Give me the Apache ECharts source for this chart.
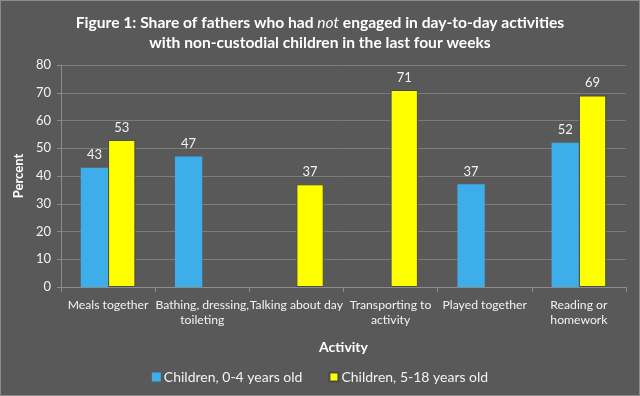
<!DOCTYPE html>
<html><head><meta charset="utf-8">
<script src="https://cdn.jsdelivr.net/npm/echarts@6/dist/echarts.min.js"></script>
<style>html,body{margin:0;padding:0;background:#595959}#c{width:640px;height:396px;box-sizing:border-box;border:1px solid #8a8a8a}</style>
</head><body><div id="c"></div>
<script>
var categories = ['Meals together', 'Bathing, dressing,\ntoileting', 'Talking about day', 'Transporting to\nactivity', 'Played together', 'Reading or\nhomework'];
var young = [43, 47, null, null, 37, 52];
var older = [53, null, 37, 71, null, 69];
var seriesNames = ['Children, 0-4 years old', 'Children, 5-18 years old'];
var yTicks = {min: 0, max: 80, interval: 10};

var font = 'Lato, "Open Sans", sans-serif';
var chart = echarts.init(document.getElementById('c'));
var lbl = {show: true, position: 'top', color: '#f2f2f2', fontSize: 13, fontFamily: font, distance: 6};
chart.setOption({
  backgroundColor: '#595959',
  animation: false,
  title: {
    text: 'Figure 1: Share of fathers who had {i|not} engaged in day-to-day activities\nwith non-custodial children in the last four weeks',
    left: 'center', top: 7,
    textStyle: {color: '#ffffff', fontSize: 15.6, fontWeight: 'bold', fontFamily: font, lineHeight: 20,
      rich: {i: {fontStyle: 'italic', fontWeight: 'normal', color: '#ffffff', fontSize: 15.6, fontFamily: font}}}
  },
  grid: {left: 60, right: 13, top: 64, bottom: 108},
  legend: {
    bottom: 6, left: 'center', itemWidth: 9, itemHeight: 9, itemGap: 26,
    icon: 'rect',
    textStyle: {color: '#f2f2f2', fontSize: 14, fontFamily: font, padding: [0, 0, 0, -2]},
    data: seriesNames
  },
  xAxis: {
    type: 'category', data: categories,
    name: 'Activity', nameLocation: 'middle', nameGap: 53,
    nameTextStyle: {color: '#ffffff', fontSize: 14, fontWeight: 'bold', fontFamily: font},
    axisLine: {lineStyle: {color: '#8c8c8c'}},
    axisTick: {show: true, alignWithLabel: false, length: 5, lineStyle: {color: '#8c8c8c'}},
    axisLabel: {color: '#f2f2f2', fontSize: 12.2, fontFamily: font, interval: 0, lineHeight: 15, margin: 11}
  },
  yAxis: {
    type: 'value', min: yTicks.min, max: yTicks.max, interval: yTicks.interval,
    name: 'Percent', nameLocation: 'middle', nameGap: 35, nameRotate: 90,
    nameTextStyle: {color: '#ffffff', fontSize: 13, fontWeight: 'bold', fontFamily: font},
    axisLine: {show: true, lineStyle: {color: '#8c8c8c'}},
    axisTick: {show: true, length: 4, inside: false, lineStyle: {color: '#8c8c8c'}},
    axisLabel: {color: '#f2f2f2', fontSize: 13, fontFamily: font, margin: 10},
    splitLine: {lineStyle: {color: '#7c7c7c', width: 1}}
  },
  series: [
    {name: seriesNames[0], type: 'bar', data: young, barGap: '0%', barCategoryGap: '42%',
     itemStyle: {color: '#3daeea'}, label: lbl},
    {name: seriesNames[1], type: 'bar', data: older, barGap: '0%', barCategoryGap: '42%',
     itemStyle: {color: '#ffff00', borderColor: '#4a4a4a', borderWidth: 1}, label: lbl}
  ]
});
</script></body></html>
